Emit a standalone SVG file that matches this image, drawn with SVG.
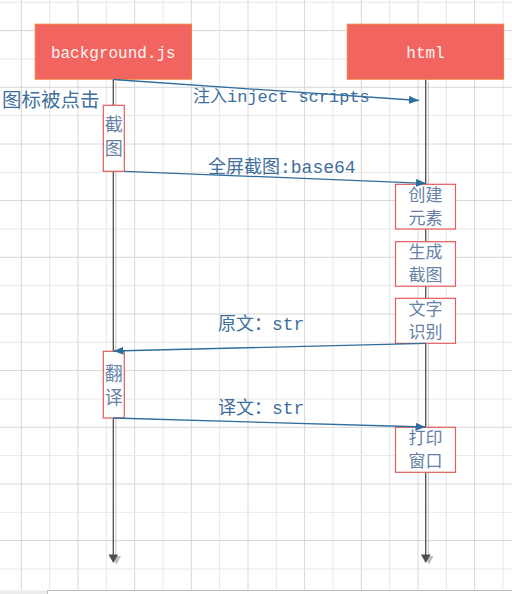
<svg xmlns="http://www.w3.org/2000/svg" width="512" height="594" viewBox="0 0 512 594">
<style>
.gl{stroke:#e8e8e8;stroke-width:1}
.gd{stroke:#d8d8d8;stroke-width:1}
.hdr{fill:#f2645f;stroke:#f27b3b;stroke-width:1}
.hdrt{font-family:"Liberation Mono","Noto Sans CJK SC",monospace;font-size:16px;fill:#fff4f4;text-anchor:middle}
.life{stroke:#4d4d4d;stroke-width:1.3;fill:none}
.lifes{stroke:#c4c4c4;stroke-width:1;fill:none}
.act{fill:#ffffff;stroke:#e35b5b;stroke-width:1.2}
.actt{font-family:"Noto Sans CJK SC",sans-serif;font-size:18px;fill:#6682a6;text-anchor:middle}
.actr{font-family:"Noto Sans CJK SC",sans-serif;font-size:17px;fill:#6682a6;text-anchor:middle}
.msg{stroke:#2f6d9c;stroke-width:1.3;fill:none}
.lbl{font-family:"Liberation Mono","Noto Sans CJK SC",monospace;fill:#3f6f9c}
</style>
<defs>
<marker id="ah" markerUnits="userSpaceOnUse" markerWidth="11" markerHeight="9" refX="10" refY="4" orient="auto">
<path d="M0,0 L10,4 L0,8 z" fill="#2f6d9c"/>
</marker>
</defs>
<rect x="0" y="0" width="512" height="594" fill="#ffffff"/>
<g id="grid">
<line class="gd" x1="21.3" y1="0" x2="21.3" y2="590"/>
<line class="gl" x1="49.7" y1="0" x2="49.7" y2="590"/>
<line class="gd" x1="78" y1="0" x2="78" y2="590"/>
<line class="gl" x1="106.3" y1="0" x2="106.3" y2="590"/>
<line class="gd" x1="134.6" y1="0" x2="134.6" y2="590"/>
<line class="gl" x1="163" y1="0" x2="163" y2="590"/>
<line class="gd" x1="191.3" y1="0" x2="191.3" y2="590"/>
<line class="gl" x1="219.6" y1="0" x2="219.6" y2="590"/>
<line class="gd" x1="248" y1="0" x2="248" y2="590"/>
<line class="gl" x1="276.3" y1="0" x2="276.3" y2="590"/>
<line class="gd" x1="304.6" y1="0" x2="304.6" y2="590"/>
<line class="gl" x1="333" y1="0" x2="333" y2="590"/>
<line class="gd" x1="361.3" y1="0" x2="361.3" y2="590"/>
<line class="gl" x1="389.6" y1="0" x2="389.6" y2="590"/>
<line class="gd" x1="418" y1="0" x2="418" y2="590"/>
<line class="gl" x1="446.3" y1="0" x2="446.3" y2="590"/>
<line class="gd" x1="474.6" y1="0" x2="474.6" y2="590"/>
<line class="gl" x1="503" y1="0" x2="503" y2="590"/>
<line class="gl" x1="0" y1="2.3" x2="512" y2="2.3"/>
<line class="gd" x1="0" y1="30.6" x2="512" y2="30.6"/>
<line class="gl" x1="0" y1="59" x2="512" y2="59"/>
<line class="gd" x1="0" y1="87.3" x2="512" y2="87.3"/>
<line class="gl" x1="0" y1="115.6" x2="512" y2="115.6"/>
<line class="gd" x1="0" y1="144" x2="512" y2="144"/>
<line class="gl" x1="0" y1="172.3" x2="512" y2="172.3"/>
<line class="gd" x1="0" y1="200.6" x2="512" y2="200.6"/>
<line class="gl" x1="0" y1="229" x2="512" y2="229"/>
<line class="gd" x1="0" y1="257.3" x2="512" y2="257.3"/>
<line class="gl" x1="0" y1="285.6" x2="512" y2="285.6"/>
<line class="gd" x1="0" y1="314" x2="512" y2="314"/>
<line class="gl" x1="0" y1="342.3" x2="512" y2="342.3"/>
<line class="gd" x1="0" y1="370.6" x2="512" y2="370.6"/>
<line class="gl" x1="0" y1="399" x2="512" y2="399"/>
<line class="gd" x1="0" y1="427.3" x2="512" y2="427.3"/>
<line class="gl" x1="0" y1="455.6" x2="512" y2="455.6"/>
<line class="gd" x1="0" y1="484" x2="512" y2="484"/>
<line class="gl" x1="0" y1="512.3" x2="512" y2="512.3"/>
<line class="gd" x1="0" y1="540.6" x2="512" y2="540.6"/>
<line class="gl" x1="0" y1="569" x2="512" y2="569"/>
</g>
<g id="bottom-bar">
<rect x="0" y="590.5" width="47.5" height="4" fill="#ececec"/>
<rect x="47.5" y="590.5" width="465" height="4" fill="#ffffff"/>
<line x1="47.5" y1="590.5" x2="512" y2="590.5" stroke="#bdbdbd" stroke-width="1"/>
<line x1="47.5" y1="590.5" x2="47.5" y2="594" stroke="#bdbdbd" stroke-width="1"/>
</g>
<g id="lifelines">
<line class="lifes" x1="115.8" y1="82" x2="115.8" y2="557"/>
<line class="life" x1="113.3" y1="79.5" x2="113.3" y2="555"/>
<polygon points="111.5,556 121,556 116.5,564.5" fill="#bcbcbc"/>
<polygon points="108.5,554.5 118,554.5 113.3,563" fill="#4d4d4d"/>
<line class="lifes" x1="428.3" y1="82" x2="428.3" y2="557"/>
<line class="life" x1="425.7" y1="79.5" x2="425.7" y2="555"/>
<polygon points="424,556 433.5,556 429,564.5" fill="#bcbcbc"/>
<polygon points="421,554.5 430.5,554.5 425.7,563" fill="#4d4d4d"/>
</g>
<g id="node-background">
<rect class="hdr" x="35.2" y="24.2" width="156.3" height="55"/>
<text class="hdrt" x="113.3" y="58">background.js</text>
</g>
<g id="node-html">
<rect class="hdr" x="347.3" y="24.2" width="156.3" height="55"/>
<text class="hdrt" x="425.5" y="58">html</text>
</g>
<g id="node-click-label">
<text x="2" y="107" font-family="Noto Sans CJK SC,sans-serif" font-size="19.5" fill="#3f6f9c">图标被点击</text>
</g>
<g id="node-jietu">
<rect class="act" x="103.3" y="105.3" width="21" height="66"/>
<text class="actt" x="113.8" y="131">截<tspan x="113.8" dy="24">图</tspan></text>
</g>
<g id="node-fanyi">
<rect class="act" x="103.3" y="351.3" width="21" height="66.7"/>
<text class="actt" x="113.8" y="380">翻<tspan x="113.8" dy="24">译</tspan></text>
</g>
<g id="node-create">
<rect class="act" x="395.5" y="184.3" width="60" height="44.7"/>
<text class="actr" x="425.5" y="201">创建<tspan x="425.5" dy="23">元素</tspan></text>
</g>
<g id="node-gen">
<rect class="act" x="395.5" y="241.7" width="60" height="44.5"/>
<text class="actr" x="425.5" y="258">生成<tspan x="425.5" dy="23">截图</tspan></text>
</g>
<g id="node-ocr">
<rect class="act" x="395.5" y="298.3" width="60" height="45"/>
<text class="actr" x="425.5" y="315">文字<tspan x="425.5" dy="23">识别</tspan></text>
</g>
<g id="node-print">
<rect class="act" x="395.5" y="427.3" width="60" height="45"/>
<text class="actr" x="425.5" y="444">打印<tspan x="425.5" dy="23">窗口</tspan></text>
</g>
<g id="connectors">
<line class="msg" x1="113.3" y1="79.5" x2="419" y2="100.5" marker-end="url(#ah)"/>
<line class="msg" x1="124.3" y1="171.3" x2="426" y2="183.3" marker-end="url(#ah)"/>
<line class="msg" x1="425.7" y1="343.3" x2="113.5" y2="351" marker-end="url(#ah)"/>
<line class="msg" x1="113.3" y1="418" x2="425.5" y2="427" marker-end="url(#ah)"/>
</g>
<g id="labels">
<text class="lbl" x="193" y="102" font-size="17">注入inject scripts</text>
<text class="lbl" x="208" y="173" font-size="18">全屏截图:base64</text>
<text class="lbl" x="218" y="330" font-size="18">原文：str</text>
<text class="lbl" x="218" y="414" font-size="18">译文：str</text>
</g>
</svg>
